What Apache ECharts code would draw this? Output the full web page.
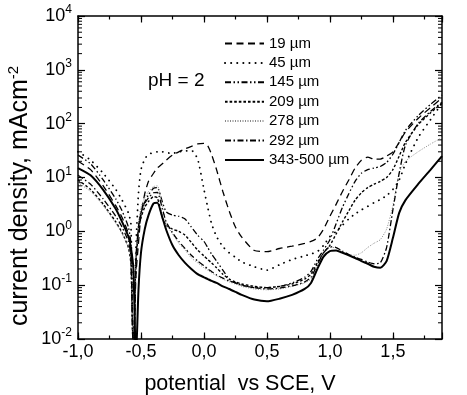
<!DOCTYPE html>
<html>
<head>
<meta charset="utf-8">
<script src="https://cdn.jsdelivr.net/npm/echarts@6/dist/echarts.min.js"></script>
<style>
html,body{margin:0;padding:0;background:#fff;}
#chart{width:467px;height:395px;}
</style>
</head>
<body>
<div id="chart"></div>
<script>
// potential vs SCE, V (shared sampling grid)
const potential = [-1.0, -0.9, -0.8, -0.7, -0.65, -0.6, -0.58, -0.56, -0.54, -0.52,
  -0.5, -0.47, -0.44, -0.4, -0.37, -0.33, -0.3, -0.25, -0.2, -0.15,
  -0.1, -0.05, 0.0, 0.03, 0.06, 0.1, 0.15, 0.2, 0.25, 0.3,
  0.4, 0.5, 0.6, 0.7, 0.8, 0.85, 0.9, 0.95, 1.0, 1.05,
  1.1, 1.15, 1.2, 1.25, 1.3, 1.35, 1.4, 1.45, 1.5, 1.55,
  1.6, 1.7, 1.8, 1.89];

// current density, mA cm^-2
const i19 = [20, 14, 7, 3, 1.8, 0.9, 0.4, 0.004, 0.15, 0.6,
  2.0, 5, 8.5, 12, 15, 18, 21, 26, 30, 34,
  38, 42, 43, 39, 27, 14, 5.5, 2.4, 1.2, 0.78,
  0.44, 0.42, 0.48, 0.53, 0.6, 0.65, 0.75, 1.1, 1.9, 3.2,
  5.5, 9, 15, 21, 24, 22, 22, 25, 30, 45,
  70, 125, 200, 300];
const i45 = [30, 21, 12, 6, 3.8, 2.2, 1.4, 0.004, 0.5, 5,
  14, 22, 27, 29, 30, 30, 29, 28, 30, 31,
  32, 22, 6, 2.8, 1.4, 0.8, 0.52, 0.4, 0.33, 0.27,
  0.22, 0.19, 0.24, 0.3, 0.35, 0.38, 0.42, 0.55, 0.8, 1.0,
  1.3, 1.7, 2.1, 2.5, 2.9, 3.4, 3.9, 4.6, 6, 9,
  18, 55, 120, 240];
const i145 = [26, 18, 9, 4, 2.4, 1.2, 0.6, 0.004, 0.3, 1.2,
  2.2, 3.5, 4.8, 6.3, 6.5, 3.5, 2.3, 2.0, 1.9, 1.7,
  1.2, 0.85, 0.65, 0.5, 0.38, 0.28, 0.19, 0.13, 0.11, 0.1,
  0.09, 0.09, 0.095, 0.11, 0.14, 0.18, 0.3, 0.45, 0.7, 1.4,
  2.8, 5, 8.5, 12, 14, 15, 16, 19, 27, 45,
  75, 140, 230, 340];
const i209 = [9, 6, 3.2, 1.5, 0.95, 0.5, 0.25, 0.004, 0.25, 1.0,
  1.8, 2.8, 3.6, 4.4, 4.2, 1.8, 1.3, 1.1, 1.0, 0.85,
  0.62, 0.45, 0.35, 0.3, 0.26, 0.21, 0.16, 0.13, 0.115, 0.105,
  0.095, 0.09, 0.095, 0.105, 0.13, 0.16, 0.26, 0.4, 0.55, 0.9,
  1.5, 2.4, 3.8, 5.2, 6.5, 7.5, 8.5, 10, 14, 25,
  45, 95, 160, 240];
const i278 = [8, 5.5, 3, 1.4, 0.9, 0.5, 0.3, 0.004, 0.4, 1.5,
  2.8, 4.2, 5.5, 6.8, 7, 3, 1.4, 0.9, 0.6, 0.45,
  0.32, 0.26, 0.21, 0.19, 0.17, 0.15, 0.13, 0.115, 0.105, 0.095,
  0.085, 0.082, 0.085, 0.095, 0.11, 0.13, 0.22, 0.38, 0.5, 0.5,
  0.42, 0.37, 0.36, 0.4, 0.5, 0.6, 0.7, 1.1, 3, 12,
  20, 30, 42, 55];
const i292 = [11, 7.5, 4, 1.9, 1.2, 0.65, 0.35, 0.004, 0.3, 1.2,
  2.2, 3.3, 4.2, 5.2, 5.3, 2.6, 1.5, 0.95, 0.65, 0.48,
  0.36, 0.28, 0.23, 0.2, 0.18, 0.155, 0.135, 0.12, 0.11, 0.1,
  0.09, 0.085, 0.088, 0.097, 0.115, 0.14, 0.24, 0.4, 0.52, 0.5,
  0.43, 0.37, 0.33, 0.3, 0.27, 0.25, 0.26, 0.5, 2.5, 12,
  40, 100, 170, 250];
const i343 = [15, 11, 5.9, 2.6, 1.5, 0.8, 0.5, 0.2, 0.004, 0.08,
  0.4, 1.1, 2.0, 3.3, 3.4, 1.8, 1.07, 0.55, 0.36, 0.26,
  0.2, 0.16, 0.14, 0.13, 0.12, 0.11, 0.095, 0.085, 0.075, 0.066,
  0.054, 0.05, 0.056, 0.066, 0.085, 0.11, 0.2, 0.34, 0.43, 0.44,
  0.4, 0.36, 0.32, 0.28, 0.25, 0.22, 0.21, 0.28, 0.75, 2.2,
  3.8, 7.5, 14, 25];

const seriesNames = ['19 µm', '45 µm', '145 µm', '209 µm', '278 µm', '292 µm', '343-500 µm'];
const seriesValues = [i19, i45, i145, i209, i278, i292, i343];

// axis ticks
const xTickLabels = [-1.0, -0.5, 0.0, 0.5, 1.0, 1.5];
const yDecades = [-2, -1, 0, 1, 2, 3, 4];
const xMin = -1.0, xMax = 1.89;

const FONT = 'Liberation Sans, Arial, Helvetica, sans-serif';

const styles = [
  {type: [7, 4.5], width: 1.3, color: '#000'},
  {type: [0.1, 6], width: 1.8, color: '#000', cap: 'round'},
  {type: [6, 2.5, 1.5, 2.5, 1.5, 2.5], width: 1.3, color: '#000'},
  {type: [2.6, 2], width: 1.4, color: '#000'},
  {type: [1, 1.5], width: 1.0, color: '#8a8a8a'},
  {type: [6, 2.5, 1.5, 2.5], width: 1.3, color: '#000'},
  {type: 'solid', width: 2.0, color: '#000'}
];

const series = seriesNames.map((name, k) => ({
  name: name,
  type: 'line',
  xAxisIndex: 0,
  yAxisIndex: 0,
  symbol: 'none',
  smooth: 0.2,
  clip: true,
  data: potential.map((v, i) => [v, seriesValues[k][i]]),
  lineStyle: {
    type: styles[k].type,
    width: styles[k].width,
    color: styles[k].color,
    cap: styles[k].cap || 'butt'
  },
  itemStyle: {color: styles[k].color},
  emphasis: {disabled: true}
}));

// logarithmic minor ticks (2..9 in each decade), placed via the y scale
const minorVals = [];
for (let d = 0; d < yDecades.length - 1; d++) {
  for (let k = 2; k <= 9; k++) minorVals.push([xMin, k * Math.pow(10, yDecades[d])]);
}
series.push({
  type: 'custom',
  xAxisIndex: 0,
  yAxisIndex: 0,
  silent: true,
  clip: false,
  data: minorVals,
  renderItem: function (params, api) {
    const cs = params.coordSys;
    const y = api.coord([xMin, api.value(1)])[1];
    return {
      type: 'group',
      children: [
        {type: 'line', shape: {x1: cs.x, y1: y, x2: cs.x + 4, y2: y}, style: {stroke: '#000', lineWidth: 1}},
        {type: 'line', shape: {x1: cs.x + cs.width - 4, y1: y, x2: cs.x + cs.width, y2: y}, style: {stroke: '#000', lineWidth: 1}}
      ]
    };
  }
});

function xLabel(v) {
  for (const t of xTickLabels) {
    if (Math.abs(v - t) < 1e-6) return t.toFixed(1).replace('.', ',');
  }
  return '';
}

function axisLine(show) {
  return {show: show, onZero: false, lineStyle: {color: '#000', width: 1.5}};
}
function xAx(pos, interval, len, labels) {
  return {
    type: 'value', position: pos, min: xMin, max: xMax, interval: interval,
    axisLine: axisLine(labels !== null),
    axisTick: {show: true, inside: true, length: len, lineStyle: {color: '#000', width: 1.2}},
    axisLabel: labels ? {show: true, formatter: xLabel, margin: 4, fontSize: 18, color: '#000', fontFamily: FONT, showMaxLabel: false} : {show: false},
    splitLine: {show: false}
  };
}

const option = {
  animation: false,
  backgroundColor: '#fff',
  grid: {left: 78, right: 25, top: 16, bottom: 56, containLabel: false},
  legend: {
    data: seriesNames,
    orient: 'vertical',
    left: 224,
    top: 36,
    padding: 0,
    itemWidth: 39,
    itemHeight: 14,
    itemGap: 4.4,
    selectedMode: false,
    itemStyle: {opacity: 0, borderWidth: 0},
    textStyle: {fontSize: 15, color: '#000', fontFamily: FONT}
  },
  xAxis: [
    xAx('bottom', 0.25, 3.5, true),
    xAx('bottom', 0.5, 6.5, null),
    xAx('top', 0.25, 3.5, false),
    xAx('top', 0.5, 6.5, null)
  ],
  yAxis: [
    {
      type: 'log', logBase: 10, min: 0.01, max: 10000, splitNumber: 6, position: 'left',
      axisLine: axisLine(true),
      axisTick: {show: true, inside: true, length: 7, lineStyle: {color: '#000', width: 1.2}},
      axisLabel: {
        show: true, margin: 6, color: '#000', fontFamily: FONT,
        formatter: function (v) {
          const e = Math.round(Math.log10(v));
          return '{b|10}{s|' + e + '}';
        },
        rich: {
          b: {fontSize: 18, lineHeight: 24, fontFamily: FONT, color: '#000'},
          s: {fontSize: 12, lineHeight: 12, verticalAlign: 'top', fontFamily: FONT, color: '#000'}
        }
      },
      splitLine: {show: false}
    },
    {
      type: 'log', logBase: 10, min: 0.01, max: 10000, splitNumber: 6, position: 'right',
      axisLine: axisLine(true),
      axisTick: {show: true, inside: true, length: 7, lineStyle: {color: '#000', width: 1.2}},
      axisLabel: {show: false},
      splitLine: {show: false}
    }
  ],
  graphic: [
    {
      type: 'text', left: 148, top: 71,
      style: {text: 'pH = 2', fontSize: 19, fontFamily: FONT, fill: '#000'}
    },
    {
      type: 'text', x: 240, y: 384,
      style: {text: 'potential  vs SCE, V', fontSize: 21.5, fontFamily: FONT, fill: '#000', align: 'center', verticalAlign: 'middle'}
    },
    {
      type: 'text', x: 20, y: 196, rotation: Math.PI / 2,
      style: {
        text: '{a|current density, mAcm}{s|-2}',
        align: 'center', verticalAlign: 'middle', fill: '#000',
        rich: {
          a: {fontSize: 25, lineHeight: 28, fontFamily: FONT, fill: '#000'},
          s: {fontSize: 15, lineHeight: 15, verticalAlign: 'top', fontFamily: FONT, fill: '#000'}
        }
      }
    }
  ],
  series: series
};

const chart = echarts.init(document.getElementById('chart'), null, {renderer: 'canvas'});
chart.setOption(option);
</script>
</body>
</html>
